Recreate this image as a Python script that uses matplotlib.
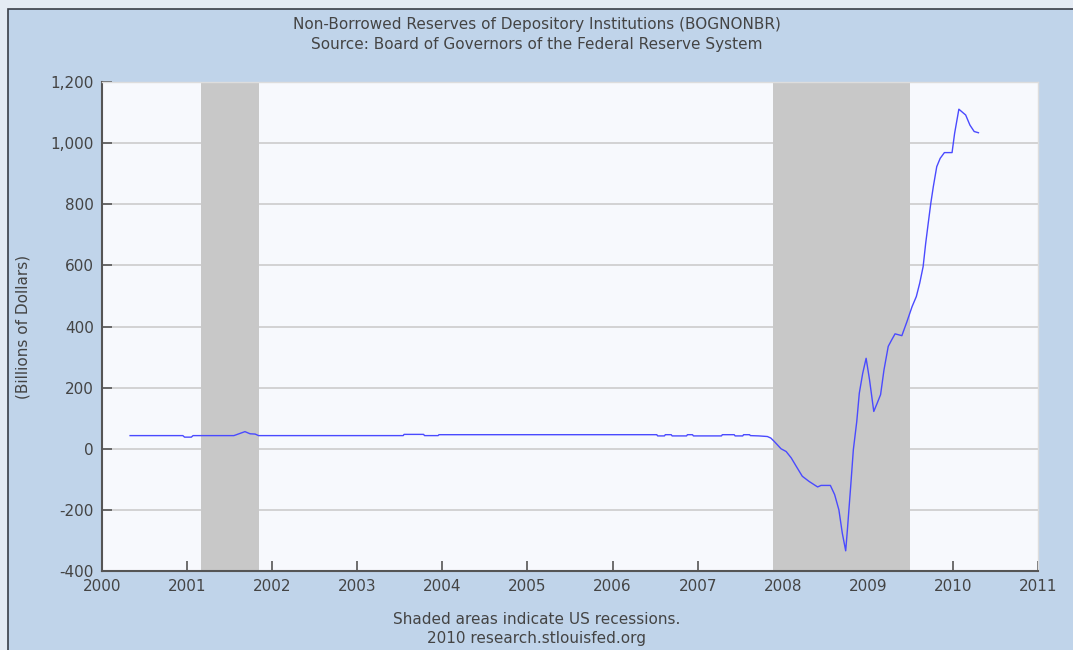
import numpy as np
import matplotlib
matplotlib.use('Agg')
import matplotlib.pyplot as plt
from matplotlib.patches import Rectangle

# decimal years and values (billions of dollars)
years = [2000.33, 2000.95, 2000.97, 2001.05, 2001.07, 2001.55, 2001.62, 2001.68,
         2001.74, 2001.80, 2001.84, 2003.54, 2003.55, 2003.78, 2003.79, 2003.95,
         2003.96, 2006.52, 2006.53, 2006.61, 2006.62, 2006.69, 2006.70, 2006.87,
         2006.88, 2006.94, 2006.95, 2007.28, 2007.29, 2007.43, 2007.44, 2007.53,
         2007.54, 2007.61, 2007.62, 2007.72, 2007.82,
         2007.86, 2007.90, 2007.98, 2008.04, 2008.10, 2008.16, 2008.23, 2008.31,
         2008.41, 2008.45, 2008.56, 2008.61, 2008.66, 2008.70, 2008.74, 2008.76,
         2008.80, 2008.83, 2008.87, 2008.90, 2008.94, 2008.98, 2009.02, 2009.07,
         2009.11, 2009.15, 2009.19, 2009.24, 2009.28, 2009.32, 2009.40, 2009.46,
         2009.52, 2009.57, 2009.61, 2009.65, 2009.68, 2009.71, 2009.74, 2009.77,
         2009.81, 2009.85, 2009.90, 2009.99, 2010.02, 2010.07, 2010.15, 2010.20,
         2010.25, 2010.30]
values = [43, 43, 38, 38, 43, 43, 50, 56,
          49, 48, 43, 43, 47, 47, 43, 43,
          46, 46, 42, 42, 46, 46, 42, 42,
          46, 46, 42, 42, 46, 46, 42, 42,
          46, 46, 43, 42, 40,
          35, 24, 0, -9, -30, -58, -90, -107,
          -125, -120, -120, -150, -200, -276, -334, -265,
          -118, -3, 89, 182, 247, 296, 226, 122,
          149, 177, 258, 335, 356, 376, 370, 416,
          465, 498, 542, 596, 672, 738, 803, 858,
          923, 950, 969, 969, 1032, 1111, 1092, 1059,
          1038, 1034]

recession_start = [2001.16, 2007.89]
recession_end = [2001.84, 2009.49]

y_ticks = [-400, -200, 0, 200, 400, 600, 800, 1000, 1200]
x_ticks = list(range(2000, 2012))

text_color = '#444444'
panel_color = '#c0d4ea'
fs = 11

fig = plt.figure(figsize=(10.73, 6.5), dpi=100)
fig.patch.set_facecolor('#e4ebf4')
fig.patches.append(Rectangle((8 / 1073, -0.01), 1.0, 1.01 - 9 / 650, transform=fig.transFigure,
                             facecolor=panel_color, edgecolor='#3a3f48', linewidth=1.2,
                             zorder=-10))

ax = fig.add_axes([102 / 1073, 1 - 571 / 650, (1038 - 102) / 1073, (571 - 82) / 650])
ax.set_facecolor('#f7f9fd')

for s, e in zip(recession_start, recession_end):
    ax.axvspan(s, e, color='#c8c8c8', zorder=1, lw=0)

ax.plot(years, values, color='#4a4aff', lw=1.0, zorder=3)

ax.set_xlim(2000, 2011)
ax.set_ylim(-400, 1200)
ax.set_xticks(x_ticks)
ax.set_yticks(y_ticks)
ax.set_yticklabels([f'{v:,}' for v in y_ticks])
ax.yaxis.grid(True, color='#cccccc', lw=1.2, zorder=0)
ax.set_axisbelow(True)

ax.tick_params(direction='in', length=7, width=1.2, color='#555555',
               labelcolor=text_color, labelsize=fs, pad=6)
for side in ['left', 'bottom']:
    ax.spines[side].set_color('#555555')
    ax.spines[side].set_linewidth(1.5)
for side in ['top', 'right']:
    ax.spines[side].set_color('#dddddd')
    ax.spines[side].set_linewidth(1.0)

ax.set_ylabel('(Billions of Dollars)', color=text_color, fontsize=fs, labelpad=14)

fig.text(0.5, 1 - 25 / 650, 'Non-Borrowed Reserves of Depository Institutions (BOGNONBR)',
         ha='center', va='center', color=text_color, fontsize=fs)
fig.text(0.5, 1 - 45 / 650, 'Source: Board of Governors of the Federal Reserve System',
         ha='center', va='center', color=text_color, fontsize=fs)
fig.text(0.5, 1 - 619 / 650, 'Shaded areas indicate US recessions.',
         ha='center', va='center', color=text_color, fontsize=fs)
fig.text(0.5, 1 - 638 / 650, '2010 research.stlouisfed.org',
         ha='center', va='center', color=text_color, fontsize=fs)

fig.savefig('out.png', dpi=100, facecolor=fig.get_facecolor())
